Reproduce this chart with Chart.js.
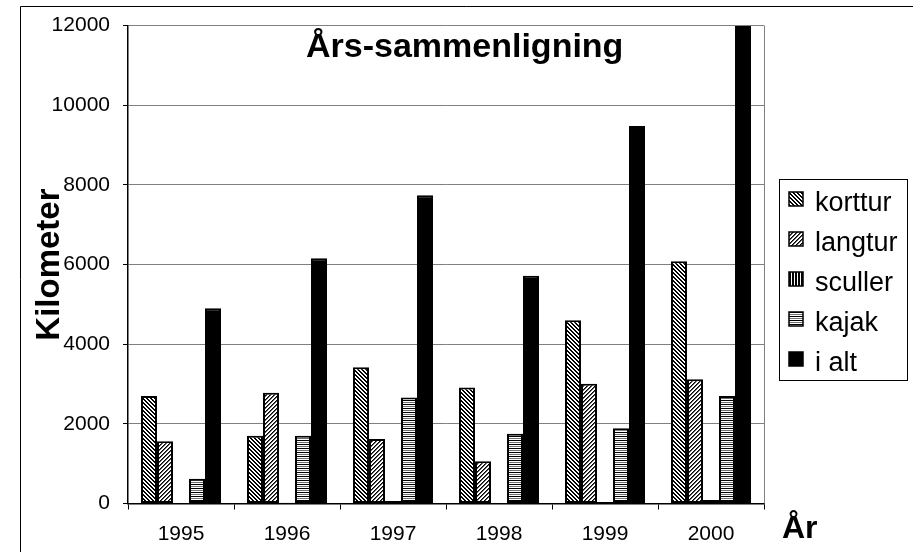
<!DOCTYPE html>
<html>
<head>
<meta charset="utf-8">
<script src="https://cdn.jsdelivr.net/npm/chart.js@4.4.1/dist/chart.umd.min.js"></script>
<style>
  html, body { margin: 0; padding: 0; background: #fff; }
  #chart { display: block; }
</style>
</head>
<body>
<canvas id="chart" width="913" height="552"></canvas>
<script>
// data
const years = ['1995', '1996', '1997', '1998', '1999', '2000'];
const korttur = [2700, 1700, 3420, 2910, 4600, 6080];
const langtur = [1560, 2780, 1620, 1060, 3010, 3120];
const sculler = [10, 20, 60, 10, 40, 90];
const kajak = [620, 1700, 2660, 1750, 1890, 2700];
const iAlt = [4900, 6160, 7740, 5720, 9480, 11990];
const seriesNames = ['korttur', 'langtur', 'sculler', 'kajak', 'i alt'];
const yTicks = [0, 2000, 4000, 6000, 8000, 10000, 12000];

const FONT = '"Liberation Sans", Arial, sans-serif';

// hatch patterns made from small pixel tiles
function makePattern(w, h, pixel) {
    const c = document.createElement('canvas');
    c.width = w;
    c.height = h;
    const ctx = c.getContext('2d');
    const img = ctx.createImageData(w, h);
    for (let y = 0; y < h; y++) {
        for (let x = 0; x < w; x++) {
            const v = pixel(x, y);
            const i = (y * w + x) * 4;
            img.data[i] = v;
            img.data[i + 1] = v;
            img.data[i + 2] = v;
            img.data[i + 3] = 255;
        }
    }
    ctx.putImageData(img, 0, 0);
    return ctx.createPattern(c, 'repeat');
}

const patKorttur = makePattern(4, 4, (x, y) => ((x - y + 8) % 4 < 2 ? 0 : 255));
const patLangtur = makePattern(4, 4, (x, y) => {
    const k = (x + y) % 4;
    return k === 0 ? 0 : (k === 1 ? 90 : 255);
});
const patSculler = makePattern(3, 1, (x) => (x === 2 ? 255 : 0));
const patKajak = makePattern(1, 4, (x, y) => [0, 255, 110, 255][y]);

const fills = [patKorttur, patLangtur, patSculler, patKajak, '#000'];
const values = [korttur, langtur, sculler, kajak, iAlt];

// frame, titles and legend box
const decorPlugin = {
    id: 'decor',
    beforeDatasetsDraw(chart) {
        const ctx = chart.ctx;
        const a = chart.chartArea;
        ctx.save();
        ctx.strokeStyle = '#808080';
        ctx.lineWidth = 1;
        ctx.beginPath();
        ctx.moveTo(Math.round(a.right) + 0.5, a.top);
        ctx.lineTo(Math.round(a.right) + 0.5, a.bottom);
        ctx.stroke();
        ctx.restore();
    },
    afterDraw(chart) {
        const ctx = chart.ctx;
        ctx.save();
        // outer border
        ctx.strokeStyle = '#000';
        ctx.lineWidth = 1;
        ctx.beginPath();
        ctx.moveTo(20.5, 552);
        ctx.lineTo(20.5, 6.5);
        ctx.lineTo(913, 6.5);
        ctx.stroke();

        ctx.fillStyle = '#000';
        ctx.textBaseline = 'alphabetic';
        ctx.textAlign = 'left';
        ctx.font = 'bold 34px ' + FONT;
        ctx.fillText('Års-sammenligning', 306, 57);
        ctx.font = 'bold 32px ' + FONT;
        ctx.fillText('År', 782, 538);

        // legend
        ctx.strokeRect(779.5, 179.5, 128, 201);
        ctx.font = '27px ' + FONT;
        chart.data.datasets.forEach((ds, i) => {
            const base = 211 + i * 40;
            ctx.fillStyle = ds.backgroundColor;
            ctx.fillRect(789, base - 19, 14, 14);
            ctx.strokeStyle = '#000';
            ctx.lineWidth = 1.5;
            ctx.strokeRect(789, base - 19, 14, 14);
            ctx.fillStyle = '#000';
            ctx.fillText(ds.label, 815, base);
        });
        ctx.restore();
    }
};

new Chart(document.getElementById('chart'), {
    type: 'bar',
    data: {
        labels: years,
        datasets: seriesNames.map((name, i) => ({
            label: name,
            data: values[i],
            backgroundColor: fills[i],
            borderColor: '#000',
            borderWidth: 2,
            borderSkipped: false,
            categoryPercentage: 0.755,
            barPercentage: 1
        }))
    },
    options: {
        responsive: false,
        animation: false,
        devicePixelRatio: 1,
        layout: {
            padding: { left: 20, right: 149, top: 24, bottom: 0 }
        },
        scales: {
            x: {
                grid: {
                    drawOnChartArea: false,
                    drawTicks: true,
                    tickLength: 6,
                    tickColor: '#000'
                },
                border: { color: '#000', width: 1.5 },
                ticks: {
                    color: '#000',
                    padding: 12,
                    font: { family: FONT, size: 21 }
                },
                afterFit(scale) {
                    scale.height = 48.5;
                }
            },
            y: {
                min: 0,
                max: 12000,
                afterBuildTicks(scale) {
                    scale.ticks = yTicks.map(v => ({ value: v }));
                },
                grid: {
                    color: '#808080',
                    lineWidth: 1,
                    tickLength: 5,
                    tickColor: '#000'
                },
                border: { color: '#000', width: 1.5 },
                ticks: {
                    color: '#000',
                    padding: 13,
                    font: { family: FONT, size: 21 },
                    callback: (v) => String(v)
                },
                title: {
                    display: true,
                    text: 'Kilometer',
                    color: '#000',
                    padding: { top: 10, bottom: 0 },
                    font: { family: FONT, size: 33, weight: 'bold' }
                },
                afterFit(scale) {
                    scale.width = 108;
                }
            }
        },
        plugins: {
            legend: { display: false },
            tooltip: { enabled: false },
            title: { display: false }
        }
    },
    plugins: [decorPlugin]
});
</script>
</body>
</html>
